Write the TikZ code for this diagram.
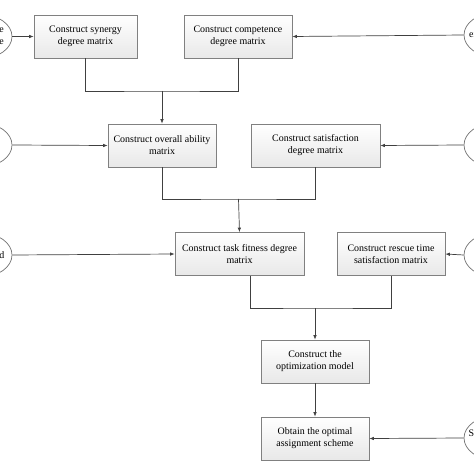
\documentclass[tikz,border=0pt]{standalone}
\usepackage{fontspec}
\setmainfont{Liberation Serif}
\usetikzlibrary{arrows.meta,shapes.geometric}
\begin{document}
\begin{tikzpicture}[x=1bp,y=-1bp,
  box/.style={draw=black!50, line width=0.7bp, top color=white, bottom color=black!9,
    minimum height=43bp, inner sep=2bp, align=center, font=\fontsize{10}{12}\selectfont},
  ell/.style={draw=black!55, line width=0.7bp, ellipse, minimum width=62bp, minimum height=44bp, inner sep=0pt},
  etext/.style={font=\fontsize{10}{12}\selectfont, align=right, inner sep=0pt},
  conn/.style={draw=black!75, line width=0.7bp},
  arr/.style={conn, -{Latex[length=4.5bp,width=3.5bp]}}]
\useasboundingbox (0,0) rectangle (474,474);
\clip (0,0) rectangle (474,474);
\fill[white] (0,0) rectangle (474,474);
% boxes
\node[box, minimum width=103bp] (A) at (85.5,36.5) {Construct synergy\\degree matrix};
\node[box, minimum width=108bp] (B) at (238,36.5) {Construct competence\\degree matrix};
\node[box, minimum width=108bp] (C) at (162,145.5) {Construct overall ability\\matrix};
\node[box, minimum width=129bp] (D) at (315.5,145.5) {Construct satisfaction\\degree matrix};
\node[box, minimum width=129bp] (E) at (239.5,254) {Construct task fitness degree\\matrix};
\node[box, minimum width=108bp] (F) at (391,254) {Construct rescue time\\satisfaction matrix};
\node[box, minimum width=108bp] (G) at (315,361.5) {Construct the\\optimization model};
\node[box, minimum width=108bp] (H) at (315,438.5) {Obtain the optimal\\assignment scheme};
% ellipses
\node[ell] (L1) at (-19,36.5) {};
\node[etext, anchor=east] (L1t) at (4,36.5) {Rescue type\\of cooperate};
\node[ell] (L2) at (-19,145) {};
\node[ell] (L3) at (-19,255) {};
\node[etext, anchor=east] (L3t) at (4.5,255) {Task demand};
\node[ell] (R1) at (495,35) {};
\node[etext, anchor=west] (R1t) at (469,35) {experience};
\node[ell] (R2) at (495,145) {};
\node[ell] (R3) at (495,255) {};
\node[ell] (R4) at (495,438) {};
\node[etext, anchor=west] (R4t) at (468.5,433) {Scheme};
% junctions
\coordinate (j1) at (162,91);
\coordinate (j2) at (238.5,199);
\coordinate (j3) at (315,308);
\coordinate (Eo) at (250,275.5);
% connectors
\draw[conn] (A.south) |- (j1) -| (B.south);
\draw[arr] (j1) -- (C.north);
\draw[conn] (C.south) |- (j2) -| (D.south);
\draw[arr] (j2) -- (E.north);
\draw[conn] (Eo) |- (j3) -| (F.south);
\draw[arr] (j3) -- (G.north);
\draw[arr] (G.south) -- (H.north);
\draw[arr] (L1.east) -- (A.west);
\draw[arr] (L2.east) -- (C.west);
\draw[arr] (L3.east) -- (E.west);
\draw[arr] (R1.west) -- (B.east);
\draw[arr] (R2.west) -- (D.east);
\draw[arr] (R3.west) -- (F.east);
\draw[arr] (R4.west) -- (H.east);
\end{tikzpicture}
\end{document}
